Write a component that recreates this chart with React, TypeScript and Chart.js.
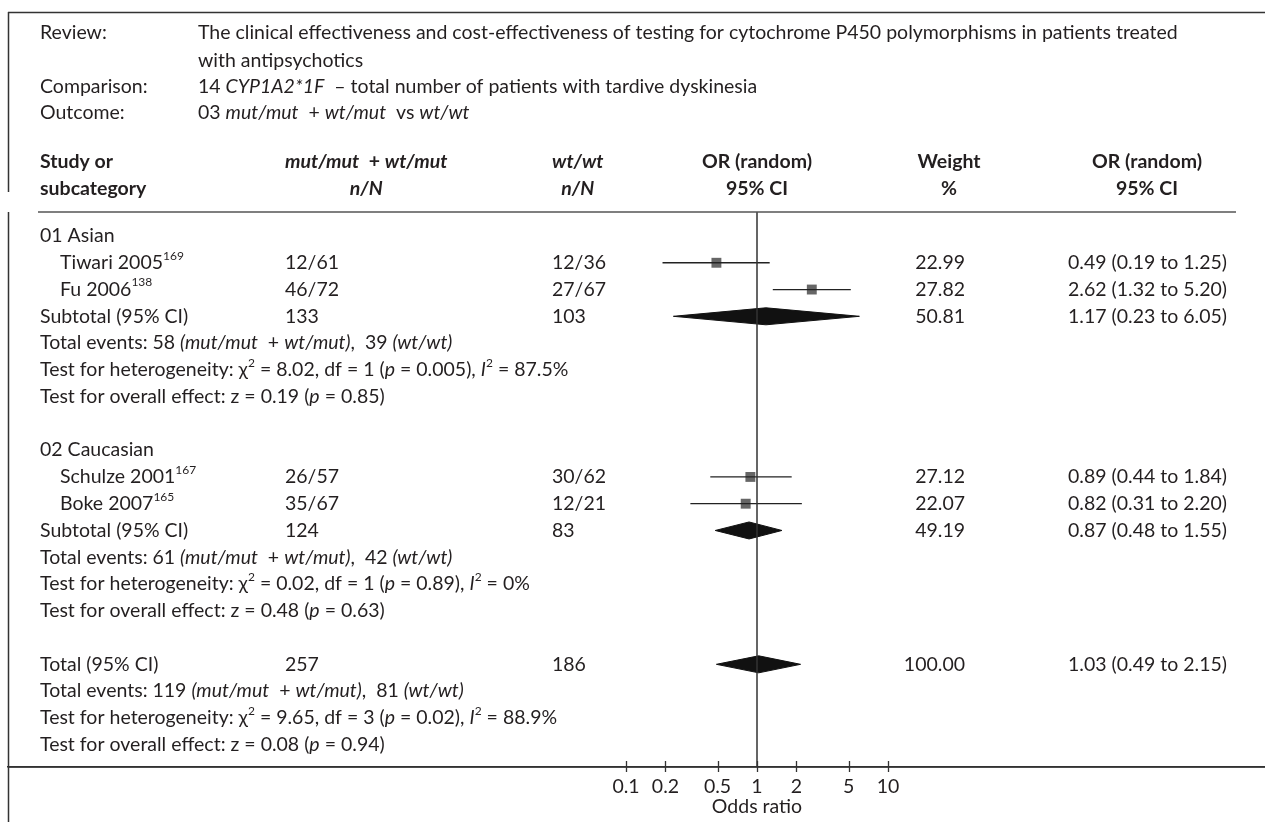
import React, { useEffect, useRef } from "react";
import { Chart, registerables } from "chart.js";

Chart.register(...registerables);

// ---------------- data ----------------
const groupLabels = ["01 Asian", "02 Caucasian"];
const groupRows = [0, 8];

const studyNames = ["Tiwari 2005", "Fu 2006", "Schulze 2001", "Boke 2007"];
const studyRefs = ["169", "138", "167", "165"];
const studyRows = [1, 2, 9, 10];
const studyMut = ["12/61", "46/72", "26/57", "35/67"];
const studyWt = ["12/36", "27/67", "30/62", "12/21"];
const studyOR = [0.49, 2.62, 0.89, 0.82];
const studyLow = [0.19, 1.32, 0.44, 0.31];
const studyHigh = [1.25, 5.2, 1.84, 2.2];
const studyWeight = [22.99, 27.82, 27.12, 22.07];

const pooledLabels = ["Subtotal (95% CI)", "Subtotal (95% CI)", "Total (95% CI)"];
const pooledRows = [3, 11, 16];
const pooledMutN = [133, 124, 257];
const pooledWtN = [103, 83, 186];
const pooledOR = [1.17, 0.87, 1.03];
const pooledLow = [0.23, 0.48, 0.49];
const pooledHigh = [6.05, 1.55, 2.15];
const pooledWeight = [50.81, 49.19, 100.0];

const eventsMut = [58, 61, 119];
const eventsWt = [39, 42, 81];
const hetChi2 = ["8.02", "0.02", "9.65"];
const hetDf = [1, 1, 3];
const hetP = ["0.005", "0.89", "0.02"];
const hetI2 = ["87.5%", "0%", "88.9%"];
const effectZ = ["0.19", "0.48", "0.08"];
const effectP = ["0.85", "0.63", "0.94"];

const xTickValues = [0.1, 0.2, 0.5, 1, 2, 5, 10];
const xTickLabels = ["0.1", "0.2", "0.5", "1", "2", "5", "10"];

// ---------------- layout ----------------
const W = 1265;
const H = 822;
const FRAME_X = 8;
const FRAME_TOP = 12;
const SEP_Y = 212;
const AXIS_Y = 767;
const ROW0_Y = 236;
const ROW_H = 26.77;
const ONE_X = 757;
const DECADE_PX = 131;
const Y_MIN = (SEP_Y - ROW0_Y) / ROW_H;
const Y_MAX = (AXIS_Y - ROW0_Y) / ROW_H;
const DIAMOND_H = 8.5 / ROW_H;

const FAMILY = "Lato, 'Noto Sans', sans-serif";
const FS = 19.5;
const SUP_FS = 12;
const SUP_RISE = 7;
const TEXT = "#231f20";

const COL_LABEL = 40;
const COL_STUDY = 60;
const COL_MUT = 285;
const COL_WT = 552;
const COL_WEIGHT_R = 965;
const COL_WEIGHT_C = 949;
const COL_CI_R = 1227;
const COL_CI_C = 1147;
const COL_REVIEW_TEXT = 198;
const SEP_RIGHT = 1236;
const REVIEW_Y = [33, 61, 87, 113];
const HEAD_Y = [162, 189];

type Seg = { t: string; s?: "n" | "i" | "b" | "bi"; sup?: boolean };

function fontFor(s: string | undefined, sup?: boolean) {
  const size = sup ? SUP_FS : FS;
  const it = s === "i" || s === "bi" ? "italic " : "";
  const bd = s === "b" || s === "bi" ? "bold " : "";
  return `${it}${bd}${size}px ${FAMILY}`;
}

function richWidth(ctx: CanvasRenderingContext2D, segs: Seg[]) {
  let w = 0;
  for (const g of segs) {
    ctx.font = fontFor(g.s, g.sup);
    w += ctx.measureText(g.t).width;
  }
  return w;
}

function drawRich(
  ctx: CanvasRenderingContext2D,
  segs: Seg[],
  x: number,
  y: number,
  align: "left" | "right" | "center" = "left"
) {
  const total = richWidth(ctx, segs);
  let cx = align === "left" ? x : align === "right" ? x - total : x - total / 2;
  ctx.textAlign = "left";
  ctx.textBaseline = "middle";
  ctx.fillStyle = TEXT;
  for (const g of segs) {
    ctx.font = fontFor(g.s, g.sup);
    ctx.fillText(g.t, cx, g.sup ? y - SUP_RISE : y);
    cx += ctx.measureText(g.t).width;
  }
}

const fmtCI = (o: number, l: number, h: number) =>
  `${o.toFixed(2)} (${l.toFixed(2)} to ${h.toFixed(2)})`;

const tablePlugin = {
  id: "forestTable",
  afterDraw(chart: any) {
    const ctx: CanvasRenderingContext2D = chart.ctx;
    const ys = chart.scales.y;
    const xs = chart.scales.x;
    const axisY = ys.getPixelForValue(Y_MAX);
    ctx.save();

    // frame
    ctx.strokeStyle = "#333";
    ctx.lineWidth = 1.5;
    ctx.beginPath();
    ctx.moveTo(FRAME_X, FRAME_TOP + 0.5);
    ctx.lineTo(W, FRAME_TOP + 0.5);
    ctx.moveTo(FRAME_X + 0.5, FRAME_TOP);
    ctx.lineTo(FRAME_X + 0.5, SEP_Y - 20);
    ctx.moveTo(FRAME_X + 0.5, SEP_Y);
    ctx.lineTo(FRAME_X + 0.5, H);
    // axis baseline across the whole frame
    ctx.moveTo(FRAME_X, axisY);
    ctx.lineTo(W, axisY);
    ctx.stroke();

    // header separator
    ctx.strokeStyle = "#555";
    ctx.beginPath();
    ctx.moveTo(COL_LABEL - 2, SEP_Y);
    ctx.lineTo(SEP_RIGHT, SEP_Y);
    ctx.stroke();

    // tick marks crossing the axis
    ctx.strokeStyle = "#333";
    ctx.lineWidth = 1.3;
    ctx.beginPath();
    for (const v of xTickValues) {
      const px = Math.round(xs.getPixelForValue(v)) + 0.5;
      ctx.moveTo(px, axisY - 6);
      ctx.lineTo(px, axisY + 5);
    }
    ctx.stroke();

    const oneX = xs.getPixelForValue(1);
    drawRich(ctx, [{ t: "Odds ratio" }], oneX, axisY + 40, "center");

    // review block
    drawRich(ctx, [{ t: "Review:" }], COL_LABEL, REVIEW_Y[0]);
    drawRich(
      ctx,
      [{ t: "The clinical effectiveness and cost-effectiveness of testing for cytochrome P450 polymorphisms in patients treated" }],
      COL_REVIEW_TEXT,
      REVIEW_Y[0]
    );
    drawRich(ctx, [{ t: "with antipsychotics" }], COL_REVIEW_TEXT, REVIEW_Y[1]);
    drawRich(ctx, [{ t: "Comparison:" }], COL_LABEL, REVIEW_Y[2]);
    drawRich(
      ctx,
      [{ t: "14 " }, { t: "CYP1A2*1F", s: "i" }, { t: "  – total number of patients with tardive dyskinesia" }],
      COL_REVIEW_TEXT,
      REVIEW_Y[2]
    );
    drawRich(ctx, [{ t: "Outcome:" }], COL_LABEL, REVIEW_Y[3]);
    drawRich(
      ctx,
      [
        { t: "03 " },
        { t: "mut/mut", s: "i" },
        { t: "  + " },
        { t: "wt/mut", s: "i" },
        { t: "  vs " },
        { t: "wt/wt", s: "i" },
      ],
      COL_REVIEW_TEXT,
      REVIEW_Y[3]
    );

    // column headers
    drawRich(ctx, [{ t: "Study or", s: "b" }], COL_LABEL, HEAD_Y[0]);
    drawRich(ctx, [{ t: "subcategory", s: "b" }], COL_LABEL, HEAD_Y[1]);
    const mutHead: Seg[] = [
      { t: "mut/mut", s: "bi" },
      { t: "  + ", s: "b" },
      { t: "wt/mut", s: "bi" },
    ];
    drawRich(ctx, mutHead, COL_MUT, HEAD_Y[0]);
    const nN: Seg[] = [{ t: "n/N", s: "bi" }];
    drawRich(ctx, nN, COL_MUT + richWidth(ctx, mutHead) / 2, HEAD_Y[1], "center");
    const wtHead: Seg[] = [{ t: "wt/wt", s: "bi" }];
    drawRich(ctx, wtHead, COL_WT, HEAD_Y[0]);
    drawRich(ctx, nN, COL_WT + richWidth(ctx, wtHead) / 2, HEAD_Y[1], "center");
    drawRich(ctx, [{ t: "OR (random)", s: "b" }], oneX, HEAD_Y[0], "center");
    drawRich(ctx, [{ t: "95% CI", s: "b" }], oneX, HEAD_Y[1], "center");
    drawRich(ctx, [{ t: "Weight", s: "b" }], COL_WEIGHT_C, HEAD_Y[0], "center");
    drawRich(ctx, [{ t: "%", s: "b" }], COL_WEIGHT_C, HEAD_Y[1], "center");
    drawRich(ctx, [{ t: "OR (random)", s: "b" }], COL_CI_C, HEAD_Y[0], "center");
    drawRich(ctx, [{ t: "95% CI", s: "b" }], COL_CI_C, HEAD_Y[1], "center");

    // groups
    groupLabels.forEach((g, i) => {
      drawRich(ctx, [{ t: g }], COL_LABEL, ys.getPixelForValue(groupRows[i]));
    });

    // studies
    studyNames.forEach((n, i) => {
      const y = ys.getPixelForValue(studyRows[i]);
      drawRich(ctx, [{ t: n }, { t: studyRefs[i], sup: true }], COL_STUDY, y);
      drawRich(ctx, [{ t: studyMut[i] }], COL_MUT, y);
      drawRich(ctx, [{ t: studyWt[i] }], COL_WT, y);
      drawRich(ctx, [{ t: studyWeight[i].toFixed(2) }], COL_WEIGHT_R, y, "right");
      drawRich(ctx, [{ t: fmtCI(studyOR[i], studyLow[i], studyHigh[i]) }], COL_CI_R, y, "right");
    });

    // pooled rows + stats
    pooledLabels.forEach((lab, i) => {
      const r = pooledRows[i];
      const y = ys.getPixelForValue(r);
      drawRich(ctx, [{ t: lab }], COL_LABEL, y);
      drawRich(ctx, [{ t: String(pooledMutN[i]) }], COL_MUT, y);
      drawRich(ctx, [{ t: String(pooledWtN[i]) }], COL_WT, y);
      drawRich(ctx, [{ t: pooledWeight[i].toFixed(2) }], COL_WEIGHT_R, y, "right");
      drawRich(ctx, [{ t: fmtCI(pooledOR[i], pooledLow[i], pooledHigh[i]) }], COL_CI_R, y, "right");

      drawRich(
        ctx,
        [
          { t: `Total events: ${eventsMut[i]} ` },
          { t: "(mut/mut", s: "i" },
          { t: "  + " },
          { t: "wt/mut)", s: "i" },
          { t: `,  ${eventsWt[i]} ` },
          { t: "(wt/wt)", s: "i" },
        ],
        COL_LABEL,
        ys.getPixelForValue(r + 1)
      );
      drawRich(
        ctx,
        [
          { t: "Test for heterogeneity: χ" },
          { t: "2", sup: true },
          { t: ` = ${hetChi2[i]}, df = ${hetDf[i]} (` },
          { t: "p", s: "i" },
          { t: ` = ${hetP[i]}), ` },
          { t: "I", s: "i" },
          { t: "2", sup: true },
          { t: ` = ${hetI2[i]}` },
        ],
        COL_LABEL,
        ys.getPixelForValue(r + 2)
      );
      drawRich(
        ctx,
        [
          { t: `Test for overall effect: z = ${effectZ[i]} (` },
          { t: "p", s: "i" },
          { t: ` = ${effectP[i]})` },
        ],
        COL_LABEL,
        ys.getPixelForValue(r + 3)
      );
    });

    ctx.restore();
  },
};

function xRange(left: number, right: number) {
  return {
    min: Math.pow(10, (left - ONE_X) / DECADE_PX),
    max: Math.pow(10, (right - ONE_X) / DECADE_PX),
  };
}

export default function App() {
  const ref = useRef<HTMLCanvasElement>(null);

  useEffect(() => {
    const canvas = ref.current;
    if (!canvas) return;
    const datasets: any[] = [];

    // line of no effect
    datasets.push({
      type: "line",
      data: [
        { x: 1, y: Y_MIN },
        { x: 1, y: Y_MAX },
      ],
      borderColor: "#333",
      borderWidth: 1.5,
      pointRadius: 0,
      fill: false,
    });

    // study confidence intervals
    studyRows.forEach((r, i) => {
      datasets.push({
        type: "line",
        data: [
          { x: studyLow[i], y: r },
          { x: studyHigh[i], y: r },
        ],
        borderColor: "#222",
        borderWidth: 1.3,
        pointRadius: 0,
        fill: false,
      });
    });

    // study point estimates
    datasets.push({
      type: "scatter",
      data: studyRows.map((r, i) => ({ x: studyOR[i], y: r })),
      pointStyle: "rect",
      pointRadius: 7,
      backgroundColor: "#666",
      borderWidth: 0,
    });

    // pooled diamonds
    pooledRows.forEach((r, i) => {
      datasets.push({
        type: "line",
        data: [
          { x: pooledLow[i], y: r },
          { x: pooledOR[i], y: r - DIAMOND_H },
          { x: pooledHigh[i], y: r },
          { x: pooledOR[i], y: r + DIAMOND_H },
          { x: pooledLow[i], y: r },
        ],
        borderColor: "#111",
        backgroundColor: "#111",
        borderWidth: 1,
        pointRadius: 0,
        tension: 0,
        fill: "shape",
      });
    });

    const init = xRange(FRAME_X, W);
    const padding = { left: FRAME_X, right: 0, top: SEP_Y, bottom: 0 };
    const chart = new Chart(canvas, {
      type: "scatter",
      data: { datasets },
      options: {
        responsive: false,
        animation: false,
        devicePixelRatio: 1,
        events: [],
        layout: { autoPadding: false, padding },
        plugins: {
          legend: { display: false },
          tooltip: { enabled: false },
        },
        scales: {
          x: {
            type: "logarithmic",
            position: "bottom",
            min: init.min,
            max: init.max,
            afterBuildTicks: (axis: any) => {
              axis.ticks = xTickValues.map((v) => ({ value: v }));
            },
            afterFit: (axis: any) => {
              axis.height = H - AXIS_Y;
              axis.paddingLeft = 0;
              axis.paddingRight = 0;
            },
            grid: { display: false, drawTicks: false },
            border: { display: true, color: "#333", width: 1.5 },
            ticks: {
              autoSkip: false,
              maxRotation: 0,
              padding: 8,
              color: TEXT,
              font: { family: FAMILY, size: FS },
              callback: (_v: any, idx: number) => xTickLabels[idx],
            },
            title: { display: false },
          },
          y: {
            type: "linear",
            display: false,
            reverse: true,
            min: Y_MIN,
            max: Y_MAX,
          },
        },
      },
      plugins: [tablePlugin],
    } as any);

    // nudge the layout so the plot area spans the frame, then put OR = 1 at ONE_X
    for (let k = 0; k < 3; k++) {
      const a = chart.chartArea;
      const dl = a.left - FRAME_X;
      const dr = W - a.right;
      const dt = a.top - SEP_Y;
      const db = a.bottom - AXIS_Y;
      if (Math.abs(dl) < 0.5 && Math.abs(dr) < 0.5 && Math.abs(dt) < 0.5 && Math.abs(db) < 0.5) break;
      padding.left -= dl;
      padding.right -= dr;
      padding.top -= dt;
      padding.bottom += db;
      (chart.options as any).layout.padding = { ...padding };
      chart.update();
    }
    const xs: any = chart.scales.x;
    const L = typeof xs._startPixel === "number" ? xs._startPixel : xs.left;
    const R = typeof xs._endPixel === "number" ? xs._endPixel : xs.right;
    const r = xRange(L, R);
    (chart.options as any).scales.x.min = r.min;
    (chart.options as any).scales.x.max = r.max;
    chart.update();

    return () => chart.destroy();
  }, []);

  return (
    <div style={{ position: "absolute", left: 0, top: 0, width: W, height: H, background: "#fff" }}>
      <canvas ref={ref} width={W} height={H} style={{ display: "block", width: W, height: H }} />
    </div>
  );
}
